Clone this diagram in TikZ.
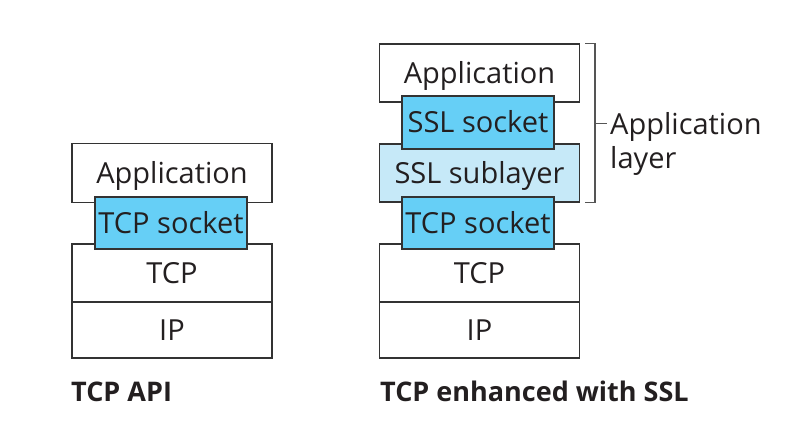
\documentclass[tikz,border=0pt]{standalone}
\usepackage{fontspec}
\setmainfont{Open Sans}
\definecolor{boxline}{HTML}{333333}
\definecolor{sockblue}{HTML}{66CFF6}
\definecolor{sublight}{HTML}{C6E9F8}
\definecolor{txtcol}{HTML}{231F20}
\definecolor{brk}{HTML}{555555}
\begin{document}
\begin{tikzpicture}[x=1pt,y=-1pt,
  box/.style={draw=boxline, line width=1.6pt, rectangle, inner sep=0pt,
    text height=20.7pt, text depth=0pt, font=\fontsize{29}{31}\selectfont, text=txtcol},
  wide/.style={box, fill=white, minimum width=200pt},
  sock/.style={box, fill=sockblue, minimum width=152pt},
  bracketline/.style={draw=brk, line width=1.1pt},
  lbl/.style={inner sep=0pt, font=\fontsize{29}{34}\selectfont, text=txtcol},
  captext/.style={inner sep=0pt, font=\fontsize{27}{30}\selectfont\bfseries, text=txtcol}]
\useasboundingbox (0,0) rectangle (803,438);
% left stack
\node[wide, minimum height=59pt] (lapp) at (172,173) {Application};
\node[wide, minimum height=58pt] (ltcp) at (172,273) {TCP};
\node[wide, minimum height=56pt] (lip) at (172,330) {IP};
\node[sock, minimum height=52pt] (lsock) at (171,223) {TCP socket};
% right stack
\node[wide, minimum height=58pt] (rapp) at (479.5,73) {Application};
\node[wide, fill=sublight, minimum height=58pt] (rsub) at (479.5,173) {SSL sublayer};
\node[wide, minimum height=58pt] (rtcp) at (479.5,273) {TCP};
\node[wide, minimum height=56pt] (rip) at (479.5,330) {IP};
\node[sock, minimum height=53pt] (rssl) at (478,122.5) {SSL socket};
\node[sock, minimum height=52pt] (rtcps) at (478,223) {TCP socket};
% bracket
\coordinate (bt) at (595,43.5);
\coordinate (bb) at (595,202.5);
\coordinate (bm) at (595,123.3);
\draw[bracketline] ([xshift=-10pt]bt) -- (bt) -- (bb) -- ([xshift=-10pt]bb);
\node[lbl, anchor=north west, align=left] (applayer) at (610,112) {Application\\layer};
\draw[bracketline] (bm) -- ([xshift=12pt]bm);
% captions
\node[captext, anchor=base west] (capl) at (71,401) {TCP API};
\node[captext, anchor=base west] (capr) at (380,401) {TCP enhanced with SSL};
\end{tikzpicture}
\end{document}
